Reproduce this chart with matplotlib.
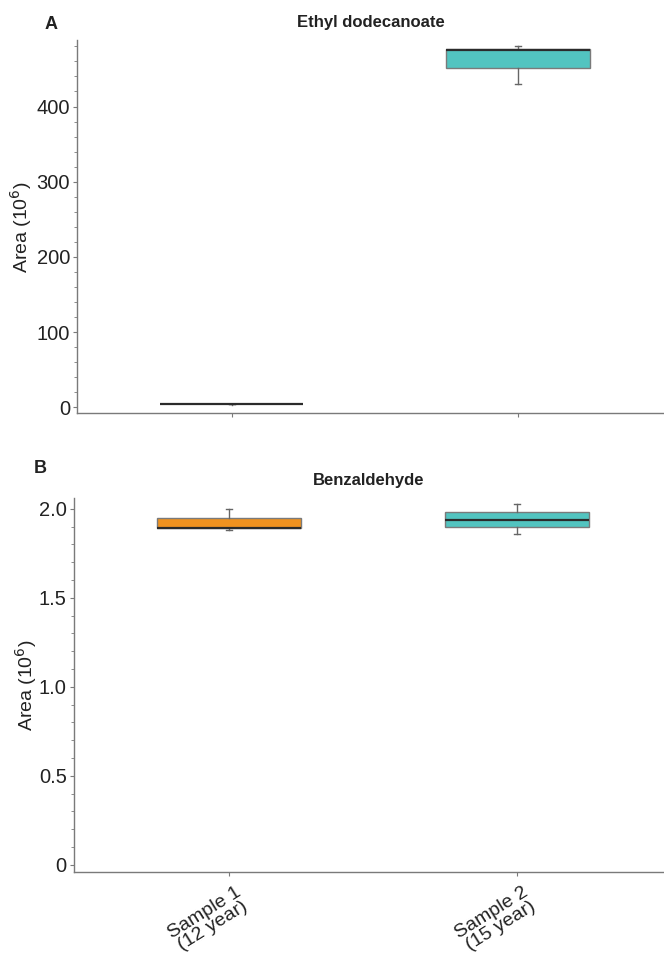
import matplotlib
matplotlib.use("Agg")
import matplotlib.pyplot as plt
import matplotlib.transforms as mtransforms
from matplotlib.ticker import MultipleLocator

plt.rcParams['font.family'] = ['Liberation Sans', 'DejaVu Sans']

# sample labels
samples = ["Sample 1\n(12 year)", "Sample 2\n(15 year)"]
colors = ["#f0921f", "#52c4c0"]

# Ethyl dodecanoate (Area 10^6): whislo, q1, med, q3, whishi
ethyl_lo = [4, 430]
ethyl_q1 = [3.5, 451]
ethyl_med = [4, 475]
ethyl_q3 = [4.5, 476]
ethyl_hi = [4, 481]

# Benzaldehyde
benz_lo = [1.88, 1.86]
benz_q1 = [1.89, 1.90]
benz_med = [1.89, 1.94]
benz_q3 = [1.95, 1.98]
benz_hi = [2.00, 2.03]

edge = "#7a7a7a"
txt = "#222222"


def make_stats(lo, q1, med, q3, hi):
    return [dict(whislo=lo[i], q1=q1[i], med=med[i], q3=q3[i], whishi=hi[i], fliers=[])
            for i in range(len(lo))]


def draw(ax, stats, fills, ylim, major, minor, title, letter, letter_x, letter_y):
    bp = ax.bxp(stats, positions=[0, 1], widths=0.5, patch_artist=True,
                showfliers=False, capwidths=0.02,
                boxprops=dict(edgecolor=edge, linewidth=1),
                whiskerprops=dict(color="#666666", linewidth=1),
                capprops=dict(color="#666666", linewidth=1),
                medianprops=dict(color="#2b2b2b", linewidth=1.6))
    for patch, c in zip(bp['boxes'], fills):
        if c is None:
            patch.set_facecolor("none")
            patch.set_edgecolor("none")
        else:
            patch.set_facecolor(c)
    ax.set_xlim(-0.54, 1.51)
    ax.set_ylim(*ylim)
    ax.yaxis.set_major_locator(MultipleLocator(major))
    ax.yaxis.set_minor_locator(MultipleLocator(minor))
    for s in ["top", "right"]:
        ax.spines[s].set_visible(False)
    for s in ["left", "bottom"]:
        ax.spines[s].set_color(edge)
        ax.spines[s].set_linewidth(1)
    ax.tick_params(axis="both", which="major", length=3, color=edge, labelsize=14.5,
                   labelcolor=txt, pad=2)
    ax.tick_params(axis="y", which="minor", length=2, color=edge)
    ax.set_ylabel("Area (10$^6$)", fontsize=14, color=txt)
    ax.text(0.5, 1.048, title, transform=ax.transAxes, fontsize=12,
            fontweight="bold", ha="center", va="center", color=txt)
    ax.text(letter_x, letter_y, letter, transform=ax.transAxes, fontsize=13,
            fontweight="bold", ha="center", va="bottom", color=txt)


fig = plt.figure(figsize=(6.64, 9.61), dpi=100)
ax1 = fig.add_axes([0.116, 0.570, 0.884, 0.388])
ax2 = fig.add_axes([0.111, 0.0926, 0.889, 0.389])

draw(ax1, make_stats(ethyl_lo, ethyl_q1, ethyl_med, ethyl_q3, ethyl_hi),
     [None, colors[1]], (-8, 488), 100, 20, "Ethyl dodecanoate",
     "A", -0.044, 1.019)
draw(ax2, make_stats(benz_lo, benz_q1, benz_med, benz_q3, benz_hi),
     colors, (-0.04, 2.06), 0.5, 0.1, "Benzaldehyde",
     "B", -0.056, 1.056)

ax1.set_xticks([0, 1])
ax1.set_xticklabels([])
ax1.yaxis.set_label_coords(-0.074, 0.5)
ax2.yaxis.set_label_coords(-0.059, 0.5)
ax2.set_yticks([0, 0.5, 1.0, 1.5, 2.0])
ax2.set_yticklabels(["0", "0.5", "1.0", "1.5", "2.0"])
ax2.set_xticks([0, 1])
ax2.set_xticklabels(samples, rotation=32, ha="center", fontsize=14,
                    linespacing=0.9)
shift = mtransforms.ScaledTranslation(-0.21, 0, fig.dpi_scale_trans)
for t in ax2.get_xticklabels():
    t.set_y(-0.012)
    t.set_transform(t.get_transform() + shift)

fig.savefig("out.png", dpi=100)
